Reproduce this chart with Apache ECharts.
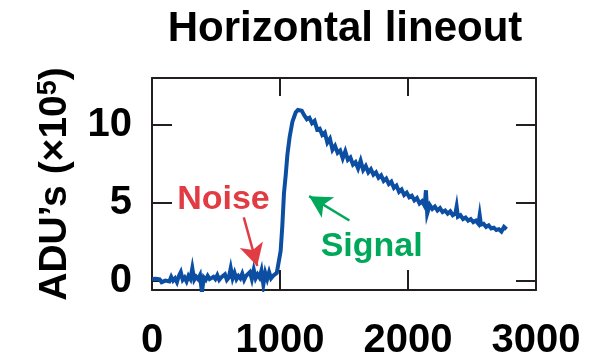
<!DOCTYPE html>
<html>
<head>
<meta charset="utf-8">
<script src="https://cdn.jsdelivr.net/npm/echarts@6/dist/echarts.min.js"></script>
<style>html,body{margin:0;padding:0;background:#fff;}#c{width:599px;height:361px;}</style>
</head>
<body>
<div id="c"></div>
<script>
// Lineout values (x = pixel column, y = ADU's ×10^5)
const noiseX = [0,15,30,45,60,75,90,105,120,135,150,165,180,195,210,225,240,255,270,285,300,315,330,345,360,375,390,405,420,435,450,465,480,495,510,525,540,555,570,585,600,615,630,645,660,675,690,705,720,735,750,765,780,795,810,825,840,855,870,885,900,915,930,945,960];
const noiseY = [0.1,0.05,0.12,0.0,0.08,-0.1,-0.15,0.0,0.1,-0.05,
                0.25,0.0,0.15,-0.1,0.3,0.55,0.05,0.2,-0.05,0.3,
                0.1,0.8,0.05,0.25,0.1,0.35,-0.75,0.2,0.05,0.3,
                0.1,0.0,0.25,0.1,0.35,0.05,0.2,0.1,0.4,0.05,
                0.2,0.8,0.15,0.5,0.1,0.3,0.15,0.45,0.05,0.3,
                0.2,0.55,0.1,0.7,0.15,0.4,0.2,0.65,-0.25,0.5,
                0.1,0.55,0.15,0.3,0.25];
const riseX = [975,990,1005,1018,1031,1045,1058,1075,1097,1110,1123,1140,1155,1170];
const riseY = [0.5,1.2,1.9,3.5,5.6,6.8,8.1,9.2,10.2,10.5,10.8,10.95,10.85,10.9];
const decayX = [1190,1210,1230,1250,1270,1290,1310,1330,1350,1370,
                1390,1410,1430,1450,1470,1490,1510,1530,1550,1570,
                1590,1610,1630,1650,1670,1690,1710,1730,1750,1770,
                1790,1810,1830,1850,1870,1890,1910,1930,1950,1970,
                1990,2010,2030,2050,2070,2090,2110,2130,2140,2150,
                2170,2190,2210,2230,2250,2270,2290,2310,2330,2350,
                2370,2380,2390,2410,2430,2450,2470,2490,2510,2530,
                2550,2560,2570,2590,2610,2630,2650,2670,2690,2710,
                2730,2750,2770];
const decayY = [10.6,10.35,10.45,10.1,10.25,9.7,9.75,9.35,9.5,8.85,
                9.1,8.4,8.65,8.2,8.35,7.85,8.3,7.75,7.9,7.45,
                7.6,7.2,7.7,7.1,7.35,6.95,7.15,6.8,6.95,6.6,
                6.75,6.4,6.55,6.2,6.35,5.95,6.1,5.7,5.85,5.5,
                5.65,5.35,5.45,5.15,5.3,4.95,5.1,4.8,5.8,4.3,
                4.85,4.6,4.75,4.5,4.65,4.4,4.5,4.3,4.45,4.2,
                4.3,4.75,4.1,4.2,3.95,4.05,3.85,3.95,3.75,3.85,
                3.65,4.2,3.6,3.65,3.45,3.55,3.35,3.4,3.25,3.3,
                3.15,3.45,3.3];
const xTicks = [0, 1000, 2000, 3000];
const yTicks = [0, 5, 10];
const titleText = 'Horizontal lineout';
const yName = 'ADU\u2019s (\u00d710{sup|5})';
const noiseLabel = {text: 'Noise', at: [558, 5.2]};
const signalLabel = {text: 'Signal', at: [1716, 2.2]};
const noiseArrow = [[717, 4.06], [822, 0.94]];
const signalArrow = [[1542, 3.86], [1228, 5.42]];

const FONT = '"Liberation Sans", Arial, Helvetica, sans-serif';
const AX = '#231f20';
const RED = '#e13b43';
const GREEN = '#00a85a';

const allX = noiseX.concat(riseX, decayX);
const allY = noiseY.concat(riseY, decayY);
const data = allX.map((x, i) => [x, allY[i]]);

const chart = echarts.init(document.getElementById('c'), null, {renderer: 'canvas'});
const axisLine = {show: true, onZero: false, lineStyle: {color: AX, width: 2}};
const tickStyle = {color: AX, width: 2};
chart.setOption({
  animation: false,
  backgroundColor: '#fff',
  title: {
    text: titleText, left: 340, top: 3, textAlign: 'center',
    textStyle: {fontFamily: FONT, fontSize: 42, fontWeight: 'bold', color: '#000'}
  },
  grid: {left: 152, right: 63, top: 78, bottom: 64},
  xAxis: [{
    type: 'value', min: 0, max: 3000, interval: 1000, position: 'bottom',
    axisLine: axisLine,
    axisTick: {show: true, inside: true, length: 20, lineStyle: tickStyle, customValues: xTicks},
    axisLabel: {show: true, margin: 31, fontFamily: FONT, fontSize: 40, fontWeight: 'bold', color: '#000',
      customValues: xTicks, showMinLabel: true, showMaxLabel: true, formatter: v => String(v)},
    splitLine: {show: false}
  }, {
    type: 'value', min: 0, max: 3000, interval: 1000, position: 'top',
    axisLine: axisLine,
    axisTick: {show: true, inside: true, length: 18, lineStyle: tickStyle, customValues: xTicks},
    axisLabel: {show: false},
    splitLine: {show: false}
  }],
  yAxis: [{
    type: 'value', min: -0.6, max: 13, position: 'left',
    axisLine: axisLine,
    axisTick: {show: true, inside: true, length: 20, lineStyle: tickStyle, customValues: yTicks},
    axisLabel: {show: true, margin: 20, fontFamily: FONT, fontSize: 40, fontWeight: 'bold', color: '#000',
      customValues: yTicks, formatter: v => String(v)},
    splitLine: {show: false},
    name: yName, nameLocation: 'middle', nameRotate: 90, nameGap: 75,
    nameTextStyle: {fontFamily: FONT, fontSize: 39, fontWeight: 'bold', color: '#000', lineHeight: 42,
      rich: {sup: {fontFamily: FONT, fontSize: 27, fontWeight: 'bold', color: '#000', verticalAlign: 'top', lineHeight: 27, padding: [0, 0, 15, 0]}}}
  }, {
    type: 'value', min: -0.6, max: 13, position: 'right',
    axisLine: axisLine,
    axisTick: {show: true, inside: true, length: 20, lineStyle: tickStyle, customValues: yTicks},
    axisLabel: {show: false},
    splitLine: {show: false}
  }],
  series: [{
    type: 'line', data: data, showSymbol: false, symbol: 'none',
    lineStyle: {color: '#0b4ea2', width: 4, join: 'miter'},
    z: 3,
    markLine: {
      silent: true, animation: false,
      symbol: ['none', 'arrow'], symbolSize: [18, 22],
      label: {show: false},
      data: [
        [{coord: noiseArrow[0], lineStyle: {color: RED, width: 2.5, type: 'solid'}, itemStyle: {color: RED}}, {coord: noiseArrow[1]}],
        [{coord: signalArrow[0], lineStyle: {color: GREEN, width: 2.5, type: 'solid'}, itemStyle: {color: GREEN}}, {coord: signalArrow[1]}]
      ]
    },
    markPoint: {
      silent: true, animation: false, symbol: 'circle', symbolSize: 0,
      data: [
        {coord: noiseLabel.at, label: {show: true, position: 'inside', formatter: noiseLabel.text, fontFamily: FONT, fontSize: 34, fontWeight: 'bold', color: RED}},
        {coord: signalLabel.at, label: {show: true, position: 'inside', formatter: signalLabel.text, fontFamily: FONT, fontSize: 34, fontWeight: 'bold', color: GREEN}}
      ]
    }
  }]
});
</script>
</body>
</html>
